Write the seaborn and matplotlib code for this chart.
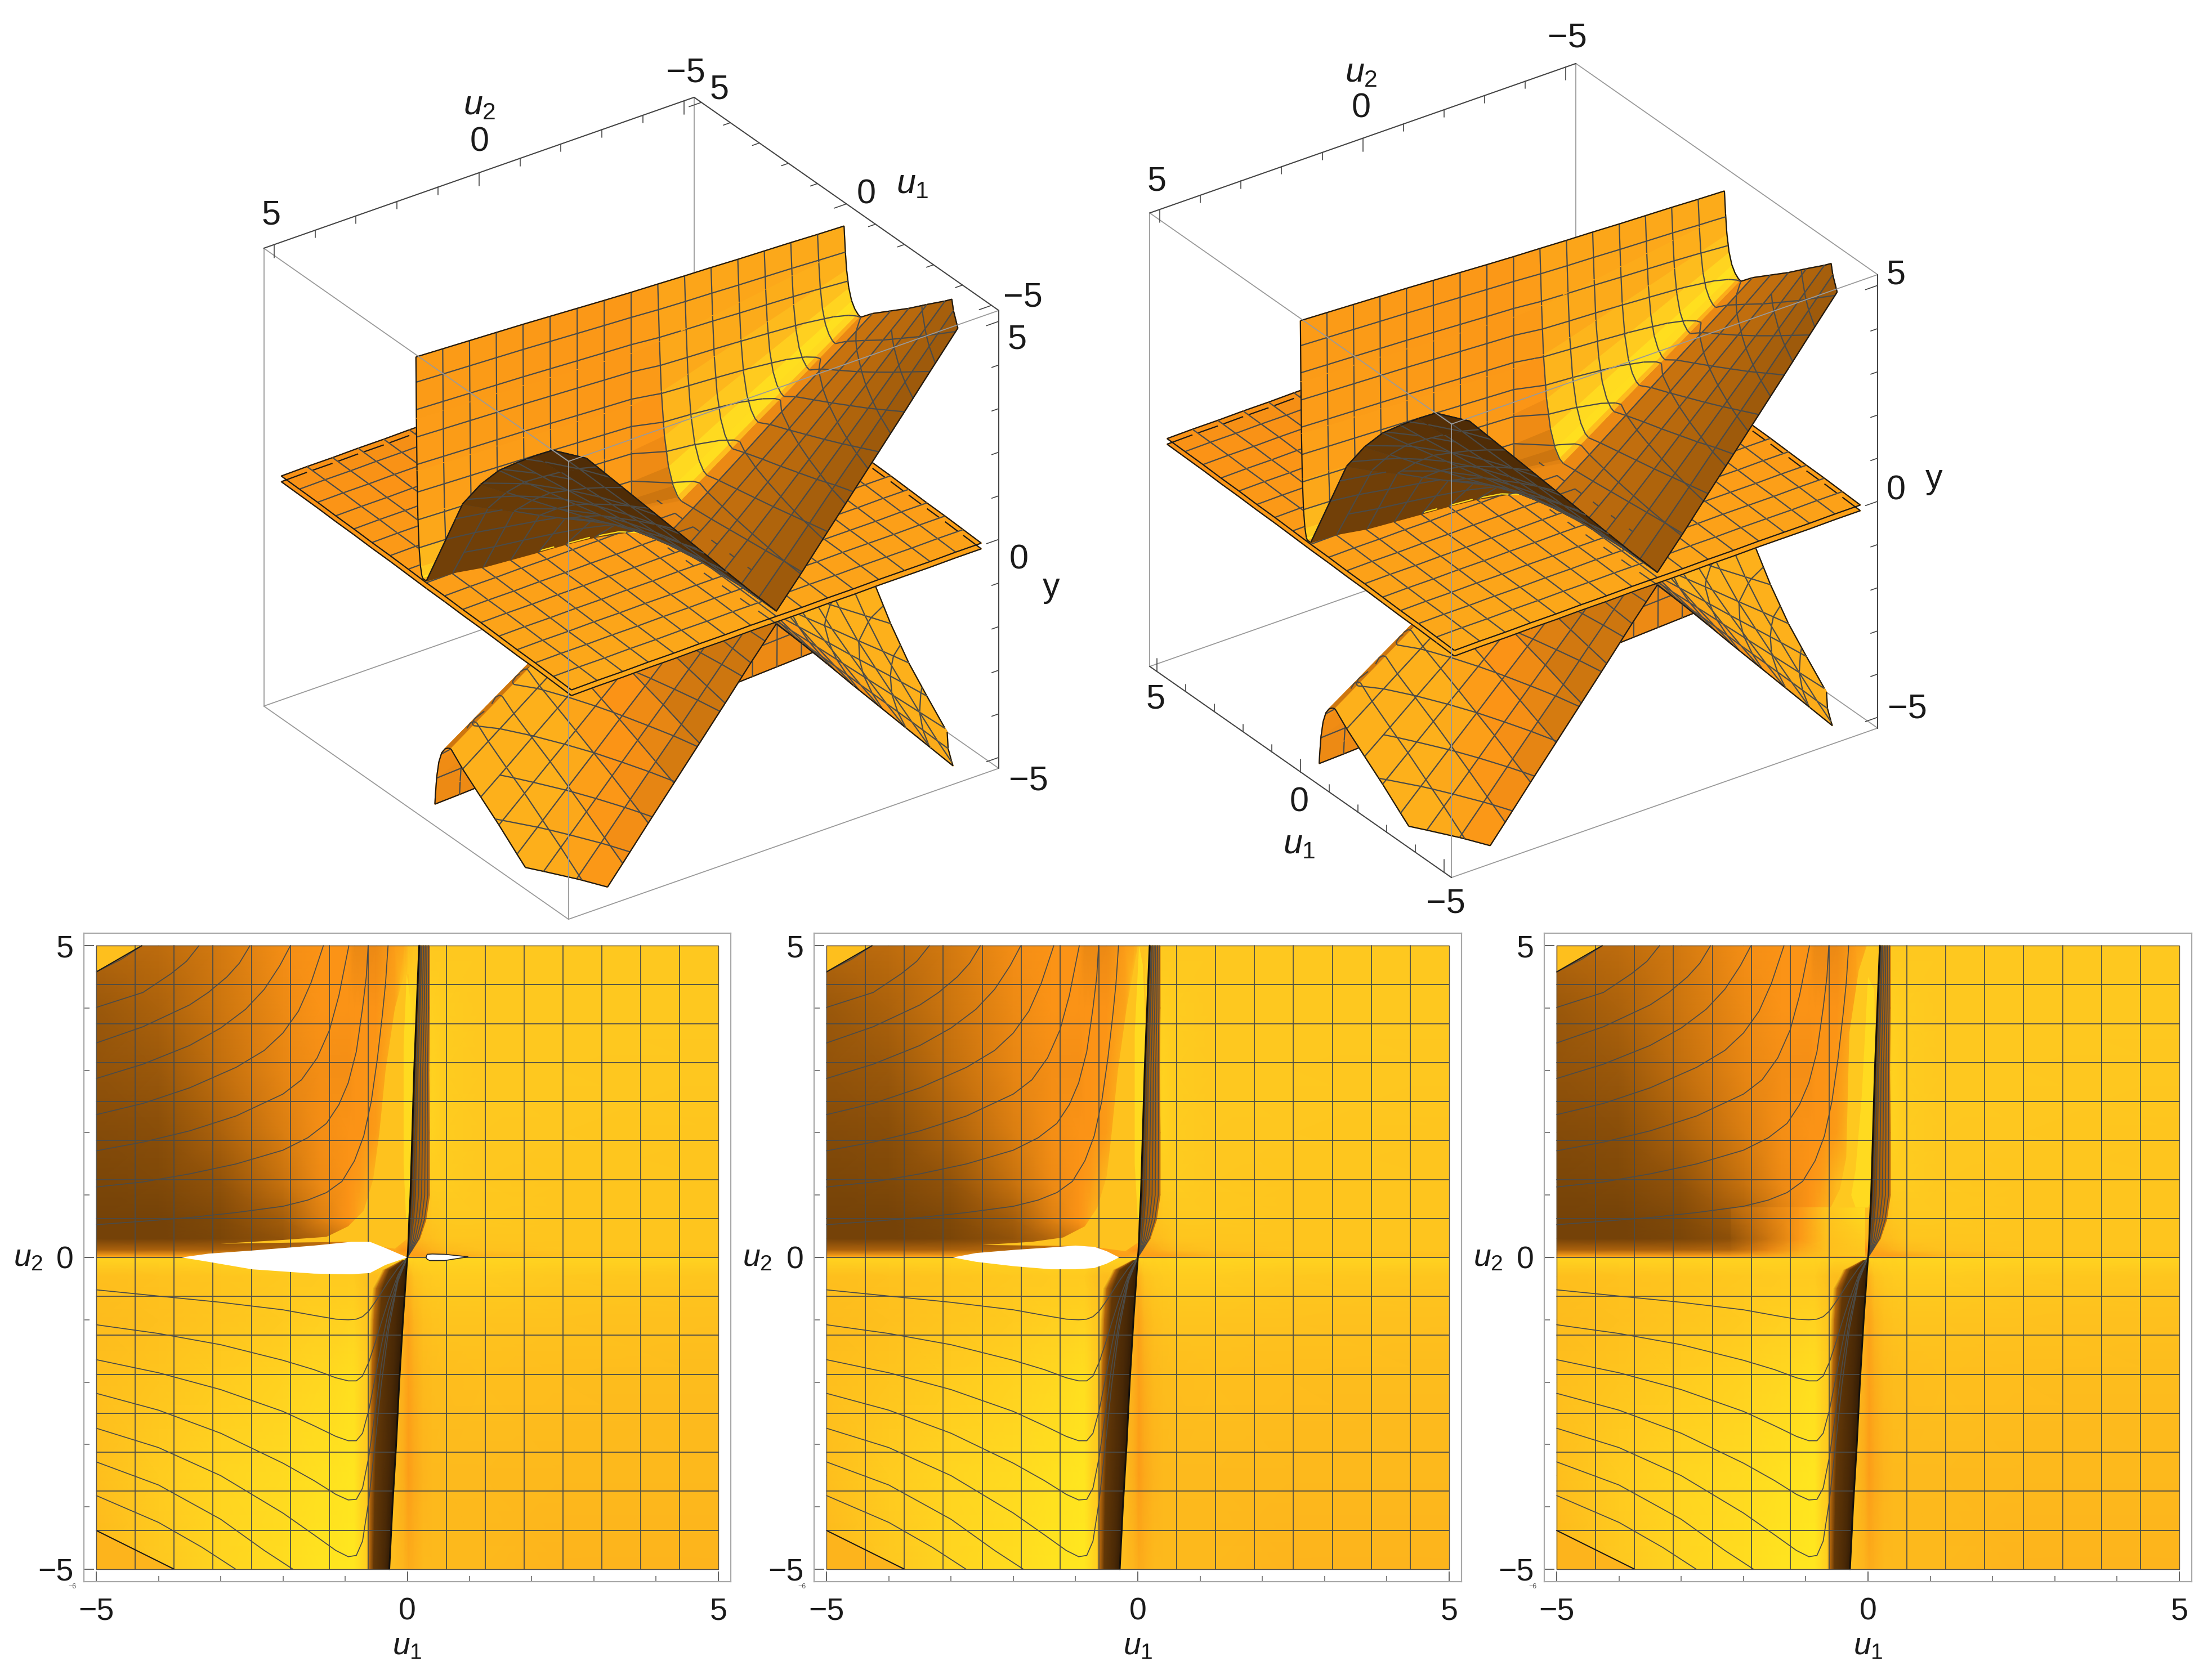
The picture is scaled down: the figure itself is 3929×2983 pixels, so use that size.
from __future__ import annotations

import matplotlib

matplotlib.use("Agg")

import matplotlib.pyplot as plt
import numpy as np
import seaborn as sns
from mpl_toolkits.mplot3d import Axes3D, proj3d
from mpl_toolkits.mplot3d.art3d import Poly3DCollection

SCALE = 3929 / 1568
FIG_W, FIG_H = 3929, 2983

# mesh lines sit every 0.625 in u1 and u2
mesh_lines = [-4.375, -3.75, -3.125, -2.5, -1.875, -1.25, -0.625, 0.0,
              0.625, 1.25, 1.875, 2.5, 3.125, 3.75, 4.375]
plate_grid = [-5.0] + mesh_lines + [5.0]

u2_rows = [5, 4.375, 3.75, 3.125, 2.5, 1.875, 1.25, 0.625, 0,
           -0.625, -1.25, -1.875, -2.5, -3.125, -3.75, -4.375, -5]
outer_u1 = [-5, -4.375, -3.75, -3.125, -2.5, -1.875, -1.25]
outer_y = [
    [5.45, 5.07, 4.65, 4.20, 3.73, 3.12, 2.38],
    [4.77, 4.44, 4.07, 3.67, 3.26, 2.73, 2.08],
    [4.09, 3.80, 3.49, 3.15, 2.80, 2.34, 1.80],
    [3.41, 3.17, 2.91, 2.63, 2.33, 1.95, 1.50],
    [2.73, 2.54, 2.33, 2.10, 1.87, 1.56, 1.22],
    [2.05, 1.90, 1.75, 1.58, 1.40, 1.19, 0.95],
    [1.36, 1.27, 1.17, 1.06, 0.95, 0.82, 0.68],
    [0.68, 0.64, 0.59, 0.55, 0.49, 0.43, 0.36],
    [0.02, 0.02, 0.02, 0.02, 0.02, 0.02, 0.02],
    [0.71, 0.67, 0.62, 0.57, 0.52, 0.47, 0.43],
    [1.43, 1.33, 1.23, 1.13, 1.04, 0.95, 0.86],
    [2.14, 2.00, 1.84, 1.70, 1.56, 1.43, 1.29],
    [2.85, 2.65, 2.45, 2.26, 2.08, 1.90, 1.73],
    [3.56, 3.31, 3.06, 2.83, 2.60, 2.38, 2.16],
    [4.28, 3.98, 3.68, 3.39, 3.11, 2.85, 2.59],
    [4.99, 4.64, 4.29, 3.96, 3.63, 3.33, 3.02],
    [5.70, 5.30, 4.90, 4.53, 4.15, 3.80, 3.45],
]
valley_u1 = [0.0, -0.03, -0.2, -0.27, -0.34, -0.4, -0.5, -0.7, -0.1,
             -0.85, -0.85, -0.85, -0.85, -0.85, -0.85, -0.85, -0.85]
valley_y = [0.03, 0.03, 0.03, 0.03, 0.03, 0.03, 0.03, 0.03, 0.03,
            0.40, 0.79, 1.19, 1.59, 1.98, 2.38, 2.78, 3.18]
base_u1 = [0.12, 0.10, 0.09, 0.08, 0.07, 0.05, 0.03, 0.01, -0.02,
           -0.84, -0.84, -0.84, -0.84, -0.84, -0.84, -0.84, -0.84]
top_u1 = [0.36, 0.32, 0.28, 0.24, 0.20, 0.15, 0.10, 0.05, 0.005,
          -0.03, -0.07, -0.10, -0.14, -0.17, -0.20, -0.24, -0.27]
wall_frac = [0.15, 0.35, 0.55, 0.72, 0.85, 0.93, 1.0]
wall_rise = [0.01, 0.05, 0.13, 0.27, 0.48, 0.72, 1.0]

plate_tilt_u1 = [-0.15, -0.13, -0.11, -0.10, -0.08, -0.06, -0.05, -0.03, -0.02,
                 0.0, 0.02, 0.03, 0.05, 0.06, 0.08, 0.09, 0.10]
plate_tilt_u2 = [0.03, 0.03, 0.02, 0.02, 0.02, 0.01, 0.01, 0.0, 0.0,
                 0.0, -0.01, -0.01, -0.02, -0.02, -0.03, -0.03, -0.04]
rim_u1 = [0.1, -0.05, -0.2, -0.35, -0.45, -0.55, -0.7, -0.95, -1.3]
rim_u2 = [4.6, 4.2, 3.6, 3.0, 2.2, 1.4, 0.8, 0.5, 0.35]

# colour table of the top-down views, 0 dark brown .. 1 yellow
shade_u1 = [-5, -4, -3, -2, -1.4, -0.95, -0.85, -0.75, -0.5, -0.2, -0.05, 0.02,
            0.1, 0.25, 0.4, 0.6, 1.2, 2.5, 5]
shade_u2 = [-5, -3.5, -2, -1, -0.3, -0.02, 0.02, 0.12, 0.3, 0.6, 1.2, 2, 3, 4, 5]
shade = [
    [.68, .78, .86, .92, .97, 1.0, 1.0, .90, .70, .70, .66, .62, .64, .68, .68, .68, .68, .66, .66],
    [.72, .80, .86, .90, .95, .99, .99, .85, .70, .70, .62, .55, .60, .66, .68, .69, .69, .68, .68],
    [.72, .76, .80, .84, .88, .93, .93, .85, .70, .70, .62, .56, .62, .68, .70, .71, .72, .71, .70],
    [.70, .73, .76, .79, .82, .84, .84, .80, .72, .70, .62, .58, .66, .72, .74, .75, .75, .74, .73],
    [.72, .74, .76, .78, .79, .79, .79, .76, .70, .70, .66, .66, .74, .78, .79, .80, .80, .78, .76],
    [.84, .84, .84, .84, .84, .84, .84, .84, .84, .84, .84, .84, .84, .84, .84, .86, .86, .84, .84],
    [.56, .56, .55, .55, .58, .60, .62, .60, .55, .55, .60, .60, .55, .55, .55, .58, .66, .72, .72],
    [.28, .28, .28, .30, .34, .40, .45, .50, .55, .60, .50, .50, .58, .62, .66, .70, .74, .76, .76],
    [.16, .16, .17, .22, .30, .38, .48, .56, .66, .72, .66, .66, .68, .70, .72, .76, .76, .76, .76],
    [.16, .16, .18, .26, .40, .50, .55, .62, .68, .72, .70, .70, .72, .72, .76, .78, .78, .76, .76],
    [.17, .18, .22, .34, .46, .50, .52, .54, .68, .72, .72, .72, .72, .74, .80, .80, .78, .76, .76],
    [.19, .20, .28, .40, .48, .50, .50, .50, .54, .74, .80, .80, .80, .78, .84, .80, .78, .77, .76],
    [.22, .24, .33, .44, .48, .48, .50, .50, .52, .66, .88, .86, .80, .78, .84, .80, .78, .78, .77],
    [.24, .28, .36, .46, .50, .50, .50, .50, .50, .58, .90, .90, .88, .80, .82, .80, .78, .78, .78],
    [.30, .32, .38, .48, .50, .50, .45, .45, .46, .55, .60, .70, .74, .78, .78, .78, .78, .78, .78],
]

# the third panel opens up above the origin
glow_u1 = [-2.2, -1.6, -1.1, -0.7, -0.05]
glow_u2 = [0.02, 0.12, 0.3, 0.8]
glow = [
    [.56, .60, .66, .72, .78],
    [.30, .44, .60, .72, .78],
    [.22, .36, .52, .72, .80],
    [.30, .42, .52, .74, .92],
]

# dark strip below u2 = 0
strip_u2 = [-5, -4, -3, -2, -1, -0.5, -0.2, -0.05]
strip_lo = [-0.65, -0.65, -0.64, -0.63, -0.6, -0.56, -0.4, -0.1]
strip_hi = [-0.29, -0.24, -0.18, -0.13, -0.07, -0.035, -0.015, -0.003]
strip_frac = [0, 0.12, 0.3, 0.8, 1]
strip_shade = [0.78, 0.3, 0.12, 0.06, 0.02]

# brown fan above u2 = 0
fan_u2 = [0.1, 0.3, 0.6, 1, 2, 3, 4, 5]
fan_line = [0.01, 0.02, 0.03, 0.05, 0.08, 0.11, 0.15, 0.19]
fan_edge = [0.07, 0.20, 0.30, 0.36, 0.36, 0.35, 0.36, 0.36]
fan_frac = [0, 0.3, 1]
fan_shade = [0.07, 0.25, 0.33]
fan_curves = [0.12, 0.26, 0.42, 0.58, 0.74, 0.9]

# creased wedge, yellow lens and white gaps, per panel
crease_u1 = [
    [-3.0, -2.0, -1.3, -0.95, -0.7, -0.55, -0.45, -0.35, -0.2, -0.05, 0.02, 0.1, 0.06, 0.0, -0.2, -1.0],
    [-2.5, -1.7, -1.2, -0.85, -0.65, -0.5, -0.42, -0.32, -0.18, 0.0, 0.1, 0.16, 0.1, 0.02, -0.2, -0.8],
    [-0.6, -0.45, -0.35, -0.33, -0.3, -0.15, -0.02, 0.14, 0.16, 0.1, 0.0, -0.4],
]
crease_u2 = [
    [0.22, 0.28, 0.33, 0.5, 0.75, 1.25, 2.0, 3.0, 4.0, 4.54, 4.54, 3.0, 1.5, 0.3, 0.14, 0.25],
    [0.2, 0.25, 0.32, 0.5, 0.8, 1.3, 2.0, 3.0, 4.0, 5.0, 5.0, 3.0, 1.5, 0.25, 0.1, 0.18],
    [0.8, 1.1, 1.6, 2.4, 3.6, 4.6, 5.0, 5.0, 3.0, 1.2, 0.8, 0.8],
]
lens_u1 = [
    [-0.01, 0.03, 0.1, 0.15, 0.1, 0.06, 0.03, -0.02, -0.06, -0.06],
    [0.02, 0.08, 0.12, 0.12, 0.1, 0.07, 0.04, 0.0, -0.05, -0.05],
    [0.0, 0.1, 0.12, 0.11, 0.08, 0.05, 0.0, -0.2, -0.27, -0.2, -0.1],
]
lens_u2 = [
    [4.54, 4.3, 3.6, 2.9, 2.0, 1.2, 0.6, 0.6, 1.5, 3.4],
    [5.0, 4.7, 3.8, 3.0, 2.0, 1.2, 0.6, 0.6, 1.5, 3.6],
    [4.5, 4.3, 3.2, 2.2, 1.3, 0.9, 0.8, 0.8, 1.0, 1.4, 2.6],
]
hole_main_u1 = [
    [-3.63, -3.2, -2.5, -1.5, -0.9, -0.6, -0.35, 0.0, -0.35, -0.6, -0.9, -1.5, -2.5, -3.2],
    [-2.97, -2.6, -2.0, -1.4, -1.0, -0.7, -0.5, -0.3, -0.5, -0.7, -1.0, -1.4, -2.0, -2.6],
]
hole_main_u2 = [
    [0.0, 0.06, 0.11, 0.19, 0.25, 0.25, 0.15, 0.0, -0.12, -0.25, -0.27, -0.26, -0.19, -0.07],
    [0.0, 0.07, 0.12, 0.16, 0.19, 0.17, 0.1, 0.0, -0.1, -0.17, -0.19, -0.19, -0.14, -0.07],
]
hole_small_u1 = [0.3, 0.32, 0.4, 0.6, 0.98, 0.6, 0.36, 0.32]
hole_small_u2 = [0.0, 0.05, 0.055, 0.05, 0.01, -0.05, -0.05, -0.03]

# y = const mesh curves on the u1 < 0 part of the lower panels
upper_curves = [
    ([-5, -4.25, -3.5, -2.75, -2, -1.6, -1.3, -1.05, -0.85, -0.7, -0.58, -0.48, -0.4, -0.35, -0.31],
     [0.525, 0.58, 0.64, 0.72, 0.82, 0.92, 1.04, 1.22, 1.55, 1.95, 2.5, 3.2, 3.9, 4.4, 5]),
    ([-5, -4.25, -3.5, -2.75, -2, -1.6, -1.3, -1.1, -0.95, -0.82, -0.72, -0.66, -0.63],
     [1.13, 1.21, 1.34, 1.5, 1.72, 1.92, 2.15, 2.45, 2.8, 3.3, 4, 4.5, 5]),
    ([-5, -4.25, -3.5, -2.75, -2, -1.7, -1.45, -1.25, -1.1, -0.94],
     [1.71, 1.85, 2.03, 2.27, 2.62, 2.85, 3.2, 3.65, 4.2, 5]),
    ([-5, -4.25, -3.5, -2.75, -2.3, -2, -1.75, -1.55, -1.35],
     [2.29, 2.47, 2.72, 3.05, 3.32, 3.6, 3.95, 4.4, 5]),
    ([-5, -4.25, -3.5, -3, -2.6, -2.3, -2.05, -1.88],
     [2.87, 3.1, 3.4, 3.68, 3.98, 4.3, 4.68, 5]),
    ([-5, -4.25, -3.5, -3.2, -2.9, -2.7, -2.53], [3.44, 3.7, 4.05, 4.25, 4.5, 4.72, 5]),
    ([-5, -4.25, -3.8, -3.55, -3.35], [4.01, 4.25, 4.55, 4.75, 5]),
    ([-5, -4.6, -4.27], [4.58, 4.78, 5]),
]
lower_u1 = [-5, -4, -3, -2, -1.5, -1.15, -0.95, -0.82, -0.72, -0.62, -0.52, -0.42, -0.3, -0.15, 0]
lower_levels = [
    [-0.52, -0.62, -0.72, -0.84, -0.93, -0.99, -1.0, -0.99, -0.95, -0.86, -0.72, -0.57, -0.38, -0.17, 0],
    [-1.08, -1.22, -1.4, -1.65, -1.8, -1.93, -1.98, -1.98, -1.9, -1.68, -1.38, -1.05, -0.68, -0.28, 0],
    [-1.64, -1.85, -2.12, -2.47, -2.7, -2.87, -2.94, -2.94, -2.82, -2.45, -1.95, -1.42, -0.85, -0.32, 0],
    [-2.18, -2.45, -2.82, -3.3, -3.58, -3.8, -3.89, -3.88, -3.7, -3.2, -2.5, -1.75, -1.02, -0.36, 0],
    [-2.74, -3.05, -3.5, -4.1, -4.45, -4.7, -4.8, -4.78, -4.55, -3.9, -3.0, -2.05, -1.15, -0.38, 0],
]
lower_short = [
    ([-5, -4, -3, -2.3, -1.84], [-3.28, -3.65, -4.2, -4.7, -5]),
    ([-5, -4, -3.3, -2.76], [-3.82, -4.25, -4.65, -5]),
]
corner_top_u1 = [-5, -5, -4.27]
corner_top_u2 = [4.58, 5, 5]
corner_bottom_u1 = [-5, -5, -3.75]
corner_bottom_u2 = [-4.38, -5, -5]

LINE_COLOR = "#4b4b48"
EDGE_COLOR = "#1d1a16"
BOX_COLOR = "#9a9a9a"
INK = "#1a1a1a"
ELEV, AZIM = 29.7, 144.7
BOX = 5.25

sns.set_theme(style="white")
plt.rcParams["font.family"] = ["Liberation Sans", "DejaVu Sans"]
plt.rcParams["mathtext.fontset"] = "custom"
plt.rcParams["mathtext.rm"] = "Liberation Sans"
plt.rcParams["mathtext.it"] = "Liberation Sans:italic"

sheet_cmap = sns.blend_palette(
    ["#2c1805", "#7a4508", "#c4700e", "#fb9316", "#fdb61c", "#ffd120", "#ffe61f"], as_cmap=True
)


def sheet_tables() -> tuple[np.ndarray, np.ndarray, np.ndarray]:
    """Assemble the upper sheet as u1, u2, y tables with one row per u2."""
    rows_u1, rows_y = [], []
    for i in range(len(u2_rows)):
        wall_u = [base_u1[i] + (top_u1[i] - base_u1[i]) * f for f in wall_frac]
        wall_y = [valley_y[i] + (5 - valley_y[i]) * r for r in wall_rise]
        rows_u1.append(list(outer_u1) + [valley_u1[i], base_u1[i]] + wall_u)
        rows_y.append(list(outer_y[i]) + [valley_y[i], valley_y[i]] + wall_y)
    u1 = np.array(rows_u1, dtype=float)
    y = np.array(rows_y, dtype=float)
    u2 = np.tile(np.array(u2_rows, dtype=float)[:, None], (1, u1.shape[1]))
    return u1, u2, y


def view_vector() -> np.ndarray:
    e, a = np.radians(ELEV), np.radians(AZIM)
    return np.array([np.cos(e) * np.cos(a), np.cos(e) * np.sin(a), np.sin(e)])


def face_shade(quad: np.ndarray, sheet: str) -> float:
    """Shade one face from its normal, the way the camera lights see it."""
    center = quad.mean(axis=0)
    if sheet == "plate":
        return float(0.53 - 0.012 * center[0] + 0.004 * center[1])
    n = np.cross(quad[2] - quad[0], quad[3] - quad[1])
    size = np.linalg.norm(n)
    n = np.array([0, 0, 1.0]) if size < 1e-9 else n / size
    if n[2] < 0:
        n = -n
    back = n @ view_vector() < 0
    if sheet == "upper" and center[1] < -0.1 and center[0] < -0.84:
        if center[0] > -1.25:
            return 0.45
        return float(0.24 + 0.03 * (center[0] + 5))
    if back and sheet == "upper":
        return float(0.07 + 0.018 * (center[0] + 5))
    if back:
        return float(0.45 + 0.15 * abs(n[1]))
    c = -0.66 - 1.19 * n[0] - 0.06 * n[1] + 1.31 * n[2]
    if sheet == "lower":
        return float(np.clip(c, 0.36, 0.64))
    return float(np.clip(c, 0.05, 1))


def clip_polygon(poly: np.ndarray, limit: float) -> np.ndarray:
    """Cut a face at the y limit of the plot range."""
    sign = 1.0 if limit > 0 else -1.0
    out = []
    for a in range(len(poly)):
        p, q = poly[a], poly[(a + 1) % len(poly)]
        p_in, q_in = p[2] * sign <= abs(limit), q[2] * sign <= abs(limit)
        if p_in:
            out.append(p)
        if p_in != q_in:
            out.append(p + (q - p) * (limit - p[2]) / (q[2] - p[2]))
    return np.array(out)


def add_sheet(items: list, u1: np.ndarray, u2: np.ndarray, y: np.ndarray, sheet: str,
              columns: list[int], levels: list[float], inner_lines: bool = True) -> None:
    """Push the faces and mesh segments of one sheet into the shared list."""
    nrow, ncol = y.shape
    pts = np.dstack([u1, u2, y])
    toward = view_vector() * 0.35
    limit = -5.0 if sheet == "lower" else 5.0

    def segment(a, b, color):
        piece = clip_polygon(np.array([a, b]), limit) if sheet != "plate" else np.array([a, b])
        if len(piece) < 2:
            return
        a, b = piece[0] + toward, piece[1] + toward
        items.append((np.array([a, b, b, a]), color, color))

    for i in range(nrow - 1):
        for j in range(ncol - 1):
            quad = np.array([pts[i, j], pts[i, j + 1], pts[i + 1, j + 1], pts[i + 1, j]])
            poly = clip_polygon(quad, limit) if sheet != "plate" else quad
            if len(poly) < 3:
                continue
            col = sheet_cmap(face_shade(quad, sheet))
            items.append((poly, col, col))
            # y = const curves cross the face as straight pieces
            for level in levels:
                hits = []
                for a in range(len(poly)):
                    p, q = poly[a], poly[(a + 1) % len(poly)]
                    if (p[2] - level) * (q[2] - level) < 0:
                        hits.append(p + (q - p) * (level - p[2]) / (q[2] - p[2]))
                if len(hits) == 2:
                    segment(hits[0], hits[1], LINE_COLOR)
            # the cut at the y limit gets an outline
            for a in range(len(poly)):
                p, q = poly[a], poly[(a + 1) % len(poly)]
                if sheet != "plate" and abs(p[2] - limit) < 1e-6 and abs(q[2] - limit) < 1e-6:
                    segment(p, q, EDGE_COLOR)

    for i in range(nrow):
        border = i in (0, nrow - 1)
        if not (border or inner_lines):
            continue
        for j in range(ncol - 1):
            segment(pts[i, j], pts[i, j + 1], EDGE_COLOR if border else LINE_COLOR)
    for j in range(ncol):
        border = j in (0, ncol - 1)
        if not (border or (inner_lines and j in columns)):
            continue
        for i in range(nrow - 1):
            segment(pts[i, j], pts[i + 1, j], EDGE_COLOR if border else LINE_COLOR)


def add_plate(items: list, level: float, inner_lines: bool) -> None:
    grid = np.array(plate_grid)
    u1, u2 = np.meshgrid(grid, grid)
    y = level + np.array(plate_tilt_u1)[None, :] + np.array(plate_tilt_u2)[:, None]
    add_sheet(items, u1, u2, y, "plate", list(range(1, 16)), [], inner_lines)


def fit_box(ax: Axes3D, left: tuple, right: tuple) -> None:
    """Size and move the 3D axes so two box corners land on their pixels."""
    def corners():
        ax.apply_aspect()
        xs, ys, _ = proj3d.proj_transform(
            np.array([BOX, -BOX]), np.array([BOX, -BOX]), np.array([BOX, BOX]), ax.get_proj()
        )
        return ax.transData.transform(np.column_stack([xs, ys]))

    pos = ax.get_position()
    got = corners()
    size = pos.width * (right[0] - left[0]) / (got[1, 0] - got[0, 0])
    ax.set_position([pos.x0, pos.y0, size, size * FIG_W / FIG_H])
    got = corners()
    dx = (left[0] - got[0, 0]) / FIG_W
    dy = ((FIG_H - left[1]) - got[0, 1]) / FIG_H
    pos = ax.get_position(original=True)
    ax.set_position([pos.x0 + dx, pos.y0 + dy, pos.width, pos.height])


def draw_box(ax: Axes3D, u1_on_top: bool) -> None:
    b = BOX
    A, B, C, D = (b, b, b), (b, -b, b), (-b, -b, b), (-b, b, b)
    Ap, Bp, Cp, Dp = (b, b, -b), (b, -b, -b), (-b, -b, -b), (-b, b, -b)
    back = [(B, Bp), (Ap, Bp), (Bp, Cp)]
    front = [(A, D), (D, C), (D, Dp), (A, Ap), (Ap, Dp), (Dp, Cp)]
    dark = [(A, B), (C, Cp)]
    if u1_on_top:
        dark.append((B, C))
    else:
        back.append((B, C))
        front.remove((Ap, Dp))
        dark.append((Ap, Dp))
    for group, z, color, lw in ((back, 1, BOX_COLOR, 1.3), (front, 5, BOX_COLOR, 1.3), (dark, 5, "#444444", 1.5)):
        for p, q in group:
            ax.plot(*zip(p, q), color=color, lw=lw, zorder=z)

    ticks = [-5, -4, -3, -2, -1, 0, 1, 2, 3, 4, 5]
    for t in ticks:
        size = 0.3 if t in (-5, 0, 5) else 0.17
        ax.plot([b, b], [t, t], [b, b - size], color="#444444", lw=1.2, zorder=5)
        ax.plot([-b, -b], [-b, -b + size], [t, t], color="#444444", lw=1.2, zorder=5)
        if u1_on_top:
            ax.plot([t, t], [-b, -b + size], [b, b], color="#444444", lw=1.2, zorder=5)
        else:
            ax.plot([t, t], [b, b], [-b, -b + size], color="#444444", lw=1.2, zorder=5)


def draw_surface_panel(fig: plt.Figure, left: tuple, right: tuple, u1_on_top: bool) -> None:
    ax = fig.add_axes([0.1, 0.5, 0.3, 0.3 * FIG_W / FIG_H], projection="3d", computed_zorder=False)
    ax.set_proj_type("ortho")
    ax.view_init(elev=ELEV, azim=AZIM)
    ax.set_box_aspect((1, 1, 1))
    ax.set_xlim(-BOX, BOX)
    ax.set_ylim(-BOX, BOX)
    ax.set_zlim(-BOX, BOX)
    ax.set_axis_off()

    levels = [0.625, 1.25, 1.875, 2.5, 3.125, 3.75, 4.375]
    u1, u2, y = sheet_tables()
    items: list = []
    add_sheet(items, u1, u2, y - 0.05, "upper", [1, 2, 3, 4, 5, 6], levels)
    add_sheet(items, u1, -u2, -y - 0.3, "lower", [1, 2, 3, 4, 5, 6], [-v for v in levels])
    add_plate(items, 0.0, True)
    add_plate(items, -0.13, False)
    # bright rim where the arch meets the plate
    for a in range(len(rim_u1) - 1):
        p = np.array([rim_u1[a], rim_u2[a], 0.05]) + view_vector() * 0.4
        q = np.array([rim_u1[a + 1], rim_u2[a + 1], 0.05]) + view_vector() * 0.4
        items.append((np.array([p, q, q, p]), sheet_cmap(0.95), sheet_cmap(0.95)))
    coll = Poly3DCollection([it[0] for it in items], facecolors=[it[1] for it in items],
                            edgecolors=[it[2] for it in items], linewidths=1.6, zsort="average")
    coll.set_zorder(3)
    ax.add_collection3d(coll)
    draw_box(ax, u1_on_top)
    fit_box(ax, left, right)


def draw_map_panel(fig: plt.Figure, frame: tuple, index: int) -> None:
    x0, x1, y0, y1 = frame
    ax = fig.add_axes([x0 / FIG_W, 1 - y1 / FIG_H, (x1 - x0) / FIG_W, (y1 - y0) / FIG_H])
    ax.set_facecolor("white")
    kw = dict(cmap=sheet_cmap, vmin=0, vmax=1, shading="gouraud")

    ax.pcolormesh(np.array(shade_u1), np.array(shade_u2), np.array(shade), zorder=1, **kw)
    if index == 2:
        ax.pcolormesh(np.array(glow_u1), np.array(glow_u2), np.array(glow), zorder=1.5, **kw)

    # wedge left of the steep wall
    ax.fill(crease_u1[index], crease_u2[index], color=sheet_cmap(0.74 if index < 2 else 0.78), lw=0, zorder=2)
    ax.fill(lens_u1[index], lens_u2[index], color=sheet_cmap(0.9), lw=0, zorder=2)
    ax.fill(corner_top_u1, corner_top_u2, color=sheet_cmap(0.72), lw=0, zorder=2)
    ax.fill(corner_bottom_u1, corner_bottom_u2, color=sheet_cmap(0.66), lw=0, zorder=2)

    s_u2 = np.array(strip_u2)
    frac = np.array(strip_frac)[None, :]
    lo, hi = np.array(strip_lo)[:, None], np.array(strip_hi)[:, None]
    xs = lo + (hi - lo) * frac
    ys = np.tile(s_u2[:, None], (1, frac.shape[1]))
    cs = np.tile(np.array(strip_shade)[None, :], (len(s_u2), 1))
    ax.pcolormesh(xs, ys, cs, zorder=3, **kw)

    f_u2 = np.array(fan_u2)
    frac = np.array(fan_frac)[None, :]
    lo, hi = np.array(fan_line)[:, None], np.array(fan_edge)[:, None]
    xs = lo + (hi - lo) * frac
    ys = np.tile(f_u2[:, None], (1, frac.shape[1]))
    cs = np.tile(np.array(fan_shade)[None, :], (len(f_u2), 1))
    ax.pcolormesh(xs, ys, cs, zorder=3, **kw)

    for v in mesh_lines:
        ax.plot([-5, 5], [v, v], color=LINE_COLOR, lw=1.4, alpha=0.9, zorder=5)
        if v != 0:
            ax.plot([v, v], [-5, 5], color=LINE_COLOR, lw=1.4, alpha=0.9, zorder=5)

    curves = upper_curves + [(lower_u1, row) for row in lower_levels] + lower_short
    for t in fan_curves:
        curves.append(([0] + [a + (b - a) * t for a, b in zip(fan_line, fan_edge)], [0] + fan_u2))
    for xs_c, ys_c in curves:
        sns.lineplot(x=xs_c, y=ys_c, sort=False, estimator=None, color=LINE_COLOR, lw=1.25,
                     legend=False, ax=ax, zorder=6)
    sns.lineplot(x=corner_top_u1[::2], y=corner_top_u2[::2], sort=False, estimator=None,
                 color=EDGE_COLOR, lw=1.5, legend=False, ax=ax, zorder=6)
    sns.lineplot(x=corner_bottom_u1[::2], y=corner_bottom_u2[::2], sort=False, estimator=None,
                 color=EDGE_COLOR, lw=1.5, legend=False, ax=ax, zorder=6)
    # black fold line through the origin
    line_u1 = list(strip_hi) + list(fan_line)
    line_u2 = list(strip_u2) + list(fan_u2)
    sns.lineplot(x=line_u1, y=line_u2, sort=False, estimator=None, color="#15110c", lw=2.2,
                 legend=False, ax=ax, zorder=6)

    if index < 2:
        ax.fill(hole_main_u1[index], hole_main_u2[index], color="white", lw=0, zorder=7)
    if index == 0:
        ax.fill(hole_small_u1, hole_small_u2, facecolor="white", edgecolor="#222222", lw=1.2, zorder=7)

    ax.plot([-5, 5, 5, -5, -5], [-5, -5, 5, 5, -5], color="#55504a", lw=1.0, zorder=6)

    ax.set_xlim(-5.2, 5.2)
    ax.set_ylim(-5.2, 5.2)
    ax.set_xticks([-5, 0, 5], labels=["\u22125", "0", "5"])
    ax.set_yticks([-5, 0, 5], labels=["\u22125", "0", "5"])
    ax.set_xticks([-4, -3, -2, -1, 1, 2, 3, 4], minor=True)
    ax.set_yticks([-4, -3, -2, -1, 1, 2, 3, 4], minor=True)
    ax.tick_params(which="major", direction="in", length=13, width=1.3, color="#555555",
                   labelsize=40, labelcolor=INK, pad=13, bottom=True, left=True)
    ax.tick_params(which="minor", direction="in", length=7, width=1.3, color="#777777",
                   bottom=True, left=True)
    ax.tick_params(axis="x", which="major", pad=20)
    for spine in ax.spines.values():
        spine.set_color("#a8a8a8")
        spine.set_linewidth(1.6)
    ax.set_xlabel("")
    ax.set_ylabel("")

    # stray small label at the corner of the frame
    fig.text((x0 - 21) / FIG_W, 1 - (y1 + 9) / FIG_H, "\u22126", fontsize=9, color="#555555",
             ha="center", va="center")
    fig.text((x0 + (x1 - x0) / 2) / FIG_W, 1 - 2925 / FIG_H, "$u_1$", fontsize=40, color=INK,
             ha="center", va="center")


def thumb_text(fig: plt.Figure, x: float, y: float, s: str, size: float) -> None:
    fig.text(x * SCALE / FIG_W, 1 - y * SCALE / FIG_H, s, fontsize=size, color=INK, ha="center", va="center")


def main() -> None:
    fig = plt.figure(figsize=(39.29, 29.83), dpi=100, facecolor="white")

    draw_surface_panel(fig, (187 * SCALE, 176 * SCALE), (708 * SCALE, 221 * SCALE), True)
    draw_surface_panel(fig, (815 * SCALE, 151 * SCALE), (1331 * SCALE, 196 * SCALE), False)

    for x, y, s in [(192, 153, "5"), (340, 101, "0"), (486, 52, "\u22125"), (340, 75, "$u_2$"),
                    (510, 64, "5"), (614, 138, "0"), (647, 131, "$u_1$"), (725, 211, "\u22125"),
                    (721, 241, "5"), (722, 397, "0"), (745, 417, "y"), (729, 554, "\u22125"),
                    (820, 129, "5"), (965, 77, "0"), (965, 52, "$u_2$"), (1111, 27, "\u22125"),
                    (1344, 195, "5"), (1344, 348, "0"), (1371, 340, "y"), (1352, 503, "\u22125"),
                    (819, 496, "5"), (921, 569, "0"), (921, 599, "$u_1$"), (1025, 641, "\u22125")]:
        thumb_text(fig, x, y, s, 44)

    frames = [(149, 1298, 1658, 2810), (1446, 2596, 1658, 2810), (2743, 3893, 1658, 2810)]
    for i, frame in enumerate(frames):
        draw_map_panel(fig, frame, i)
    for x, s in [(20, "$u_2$"), (537, "$u_2$"), (1055, "$u_2$")]:
        thumb_text(fig, x, 892, s, 40)

    fig.savefig("out.png", dpi=100, facecolor="white")
    plt.close(fig)


if __name__ == "__main__":
    main()
